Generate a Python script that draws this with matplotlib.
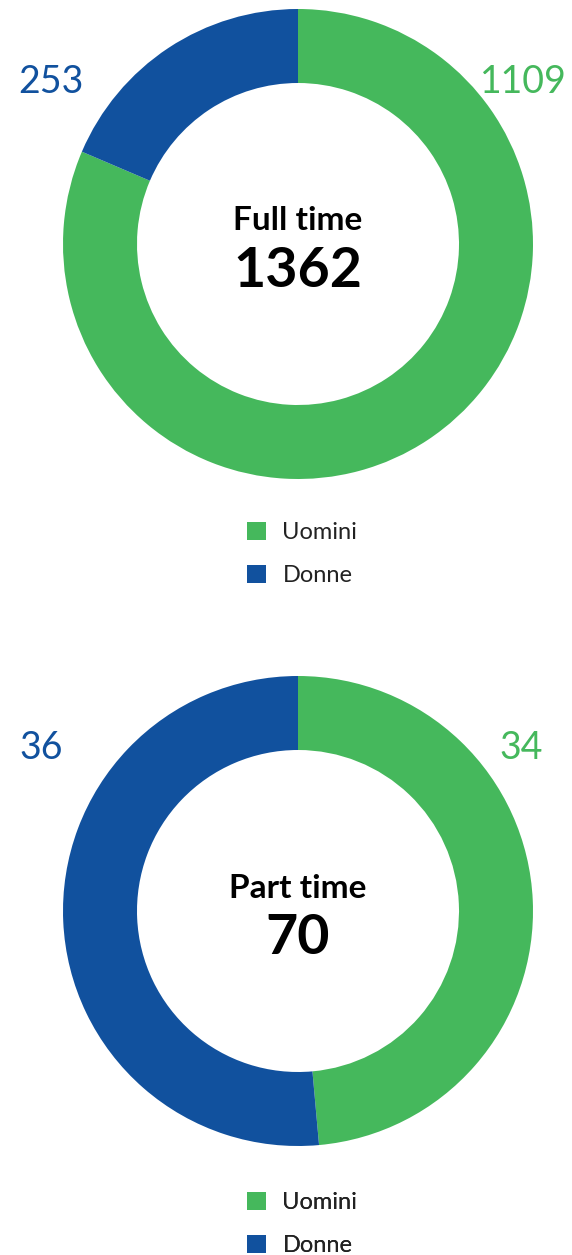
import matplotlib
matplotlib.use("Agg")
import matplotlib.pyplot as plt

# ---------------------------------------------------------------------------
# Data
# ---------------------------------------------------------------------------
categories = ["Uomini", "Donne"]
full_time = [1109, 253]
part_time = [34, 36]
titles = ["Full time", "Part time"]

GREEN = "#45B85C"
BLUE = "#11519E"
colors = [GREEN, BLUE]

W, H = 572, 1255
plt.rcParams["font.family"] = ["Lato", "DejaVu Sans"]

fig = plt.figure(figsize=(W / 100, H / 100), dpi=100)
ax = fig.add_axes([0, 0, 1, 1])
ax.set_xlim(0, W)
ax.set_ylim(0, H)
ax.axis("off")

# pixel layout (y measured from the top of the picture)
# lab_x: (x, ha) for the green and the blue value label
panels = [
    dict(values=full_time, title=titles[0], cy=244,
         lab_y=82, lab_x=((567, "right"), (18, "left")), leg_y=554),
    dict(values=part_time, title=titles[1], cy=911,
         lab_y=748, lab_x=((543, "right"), (19, "left")), leg_y=1224),
]

R_OUT, R_IN = 235, 161
CX = 298

for p in panels:
    cy = H - p["cy"]
    wedges, _ = ax.pie(p["values"], colors=colors, startangle=90,
                       counterclock=False, center=(CX, cy), radius=R_OUT,
                       wedgeprops=dict(width=R_OUT - R_IN, linewidth=0))
    total = sum(p["values"])

    # centre text
    ax.text(CX, H - (p["cy"] - 23), p["title"], ha="center", va="center",
            fontsize=24, fontweight="bold", color="black")
    ax.text(CX, H - (p["cy"] + 27), f"{total}", ha="center", va="center",
            fontsize=40, fontweight="bold", color="black")

    # value labels
    for val, col, (x, ha) in zip(p["values"], colors, p["lab_x"]):
        ax.text(x, H - p["lab_y"], f"{val}", ha=ha, va="center",
                fontsize=27, color=col)

    leg = ax.legend(wedges, categories, loc="center left",
                    bbox_to_anchor=(247, H - p["leg_y"]),
                    bbox_transform=ax.transData, frameon=False,
                    fontsize=17, handlelength=0.8, handleheight=0.8,
                    handletextpad=0.7, labelspacing=0.95,
                    borderpad=0, borderaxespad=0)
    for t in leg.get_texts():
        t.set_color("#222222")
    ax.add_artist(leg)

ax.set_xlim(0, W)
ax.set_ylim(0, H)
ax.set_aspect("auto")

fig.savefig("out.png", dpi=100)
